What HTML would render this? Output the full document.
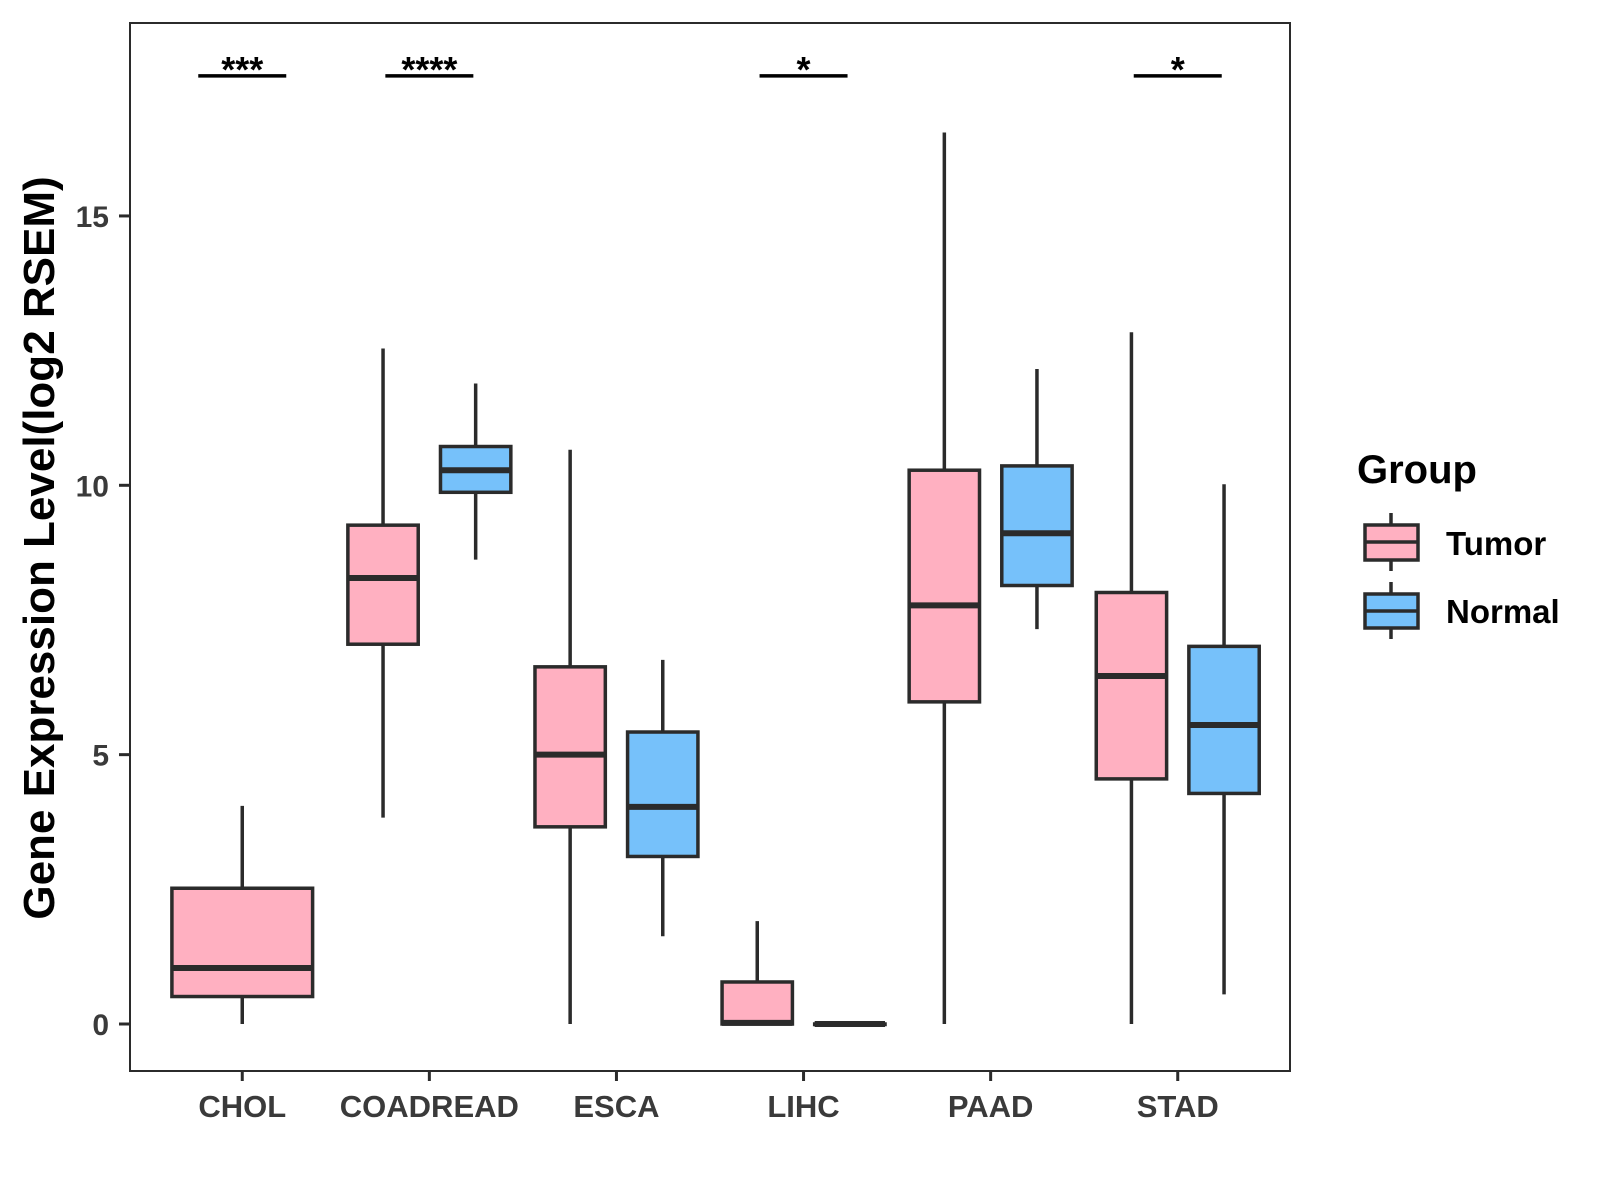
<!DOCTYPE html>
<html><head><meta charset="utf-8"><style>
html,body{margin:0;padding:0;background:#fff;}
svg{display:block;font-family:"Liberation Sans",sans-serif;}
</style></head><body>
<svg id="chart" width="1600" height="1200" viewBox="0 0 1600 1200">
<rect x="0" y="0" width="1600" height="1200" fill="#fff"/>
<g id="marks"></g>
<rect x="130" y="23" width="1160" height="1048" fill="none" stroke="#2b2b2b" stroke-width="2"/>
<g id="axes"></g>
<text transform="translate(54,548) rotate(-90)" text-anchor="middle" font-size="44" font-weight="bold" fill="#000">Gene Expression Level(log2 RSEM)</text>
<g>
<text x="1357" y="483" font-size="40" font-weight="bold" fill="#000">Group</text>
<g>
<line x1="1391" y1="513" x2="1391" y2="571" stroke="#2b2b2b" stroke-width="3.5"/>
<rect x="1365" y="525" width="53" height="35" fill="#FFB0C1" stroke="#2b2b2b" stroke-width="3.5"/>
<line x1="1365" y1="542" x2="1418" y2="542" stroke="#2b2b2b" stroke-width="3.5"/>
<text x="1446" y="555" font-size="33" font-weight="bold" fill="#000">Tumor</text>
</g>
<g>
<line x1="1391" y1="582" x2="1391" y2="639" stroke="#2b2b2b" stroke-width="3.5"/>
<rect x="1365" y="594" width="53" height="34" fill="#76C1FA" stroke="#2b2b2b" stroke-width="3.5"/>
<line x1="1365" y1="611" x2="1418" y2="611" stroke="#2b2b2b" stroke-width="3.5"/>
<text x="1446" y="623" font-size="33" font-weight="bold" fill="#000">Normal</text>
</g>
</g>
</svg>
<script>
const categories = ["CHOL","COADREAD","ESCA","LIHC","PAAD","STAD"];
// [min, q1, median, q3, max] ; null = no box
const tumorStats = [
 [0,0.51,1.04,2.52,4.05],
 [3.83,7.05,8.28,9.26,12.54],
 [0,3.66,5.0,6.63,10.66],
 [0,0,0.02,0.78,1.91],
 [0,5.98,7.77,10.28,16.55],
 [0,4.55,6.46,8.01,12.84]
];
const normalStats = [
 null,
 [8.62,9.87,10.28,10.72,11.89],
 [1.63,3.11,4.03,5.42,6.76],
 [0,0,0,0,0],
 [7.33,8.14,9.11,10.36,12.16],
 [0.55,4.28,5.55,7.01,10.02]
];
const sigLabels = ["***","****","","*","","*"];
const yTicks = [0,5,10,15];
const sigY = 17.6;

const NS="http://www.w3.org/2000/svg";
const xLeft=130, xRight=1290, nCat=categories.length;
const step=(xRight-xLeft)/(nCat+ (2*0.6-1) );
function xScale(i){ return xLeft + step*0.6 + i*step; }
const y0=1024, yPer=53.87;
function yScale(v){ return y0 - v*yPer; }
function mk(tag,attrs,parent){const e=document.createElementNS(NS,tag);for(const k in attrs)e.setAttribute(k,attrs[k]);parent.appendChild(e);return e;}
const marks=document.getElementById('marks'), axes=document.getElementById('axes');
const dodge=step*0.2475, bw=step*0.376;

function drawBox(s,cx,w,fill,name){
  const g=mk('g',{},marks);
  
  
  const st={stroke:'#2b2b2b','stroke-width':3.5};
  mk('line',Object.assign({x1:cx,x2:cx,y1:yScale(s[4]),y2:yScale(s[3])},st),g);
  mk('line',Object.assign({x1:cx,x2:cx,y1:yScale(s[1]),y2:yScale(s[0])},st),g);
  mk('rect',Object.assign({x:cx-w/2,y:yScale(s[3]),width:w,height:Math.max(0.5,yScale(s[1])-yScale(s[3])),fill:fill},st),g);
  mk('line',{x1:cx-w/2,x2:cx+w/2,y1:yScale(s[2]),y2:yScale(s[2]),stroke:'#2b2b2b','stroke-width':6},g);
}
categories.forEach((c,i)=>{
  const cx=xScale(i);
  if(normalStats[i]){
    drawBox(tumorStats[i],cx-dodge,bw,'#FFB0C1','box-tumor-'+c.toLowerCase());
    drawBox(normalStats[i],cx+dodge,bw,'#76C1FA','box-normal-'+c.toLowerCase());
  } else {
    drawBox(tumorStats[i],cx,bw*2,'#FFB0C1','box-tumor-'+c.toLowerCase());
  }
  if(sigLabels[i]){
    const g=mk('g',{},marks);
    
    
    mk('line',{x1:cx-44,x2:cx+44,y1:yScale(sigY),y2:yScale(sigY),stroke:'#000','stroke-width':3.5},g);
    const t=mk('text',{x:cx,y:yScale(sigY)+6,'text-anchor':'middle','font-size':36,'font-weight':'bold',fill:'#000'},g);
    t.textContent=sigLabels[i];
  }
  const tk=mk('line',{x1:cx,x2:cx,y1:1071,y2:1081,stroke:'#2b2b2b','stroke-width':3},axes);
  
  
  const lb=mk('text',{x:cx,y:1117,'text-anchor':'middle','font-size':31,'font-weight':'bold',fill:'#3a3a3a'},axes);
  
  
  lb.textContent=c;
});
yTicks.forEach(v=>{
  const y=yScale(v);
  const tk=mk('line',{x1:119,x2:130,y1:y,y2:y,stroke:'#2b2b2b','stroke-width':3},axes);
  
  
  const lb=mk('text',{x:109,y:y+11,'text-anchor':'end','font-size':30,'font-weight':'bold',fill:'#3a3a3a'},axes);
  
  
  lb.textContent=v;
});
</script>
</body></html>
